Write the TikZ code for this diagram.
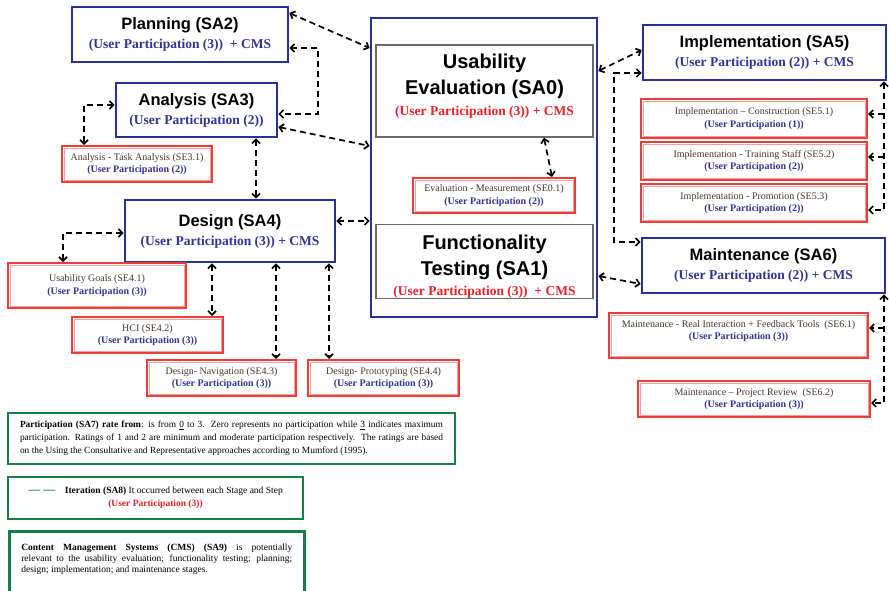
\documentclass[tikz,border=0pt]{standalone}
\usepackage{fontspec}
\setmainfont{Liberation Serif}
\newfontfamily\headfont{Liberation Sans}
\usetikzlibrary{arrows.meta}
\usetikzlibrary{calc}

\definecolor{sablue}{RGB}{38,50,150}
\definecolor{upblue}{RGB}{48,52,145}
\definecolor{sered}{RGB}{236,62,56}
\definecolor{upred}{RGB}{236,32,38}
\definecolor{sagreen}{RGB}{18,128,66}
\definecolor{coregray}{RGB}{105,105,105}
\definecolor{steptext}{RGB}{72,54,44}

\newcommand{\stagename}[1]{{\headfont\bfseries\fontsize{16.5}{19}\selectfont #1}}
\newcommand{\bigname}[1]{{\headfont\bfseries\fontsize{20}{26}\selectfont #1}}
\newcommand{\uparts}[1]{{\bfseries\color{upblue}#1}}
\newcommand{\upartr}[1]{{\bfseries\color{upred}#1}}

\tikzset{
  stage/.style={draw=sablue, line width=2.6pt, fill=white, align=center, inner sep=0pt,
    font=\fontsize{13.5}{19}\selectfont},
  mainbox/.style={draw=coregray, line width=1.4pt, fill=white, align=center, inner sep=0pt,
    font=\fontsize{13.5}{25}\selectfont},
  substep/.style={draw=sered, line width=2pt, fill=white,
    path picture={\draw[sered!50, line width=0.7pt]
      ([shift={(1.9pt,-1.9pt)}]path picture bounding box.north west) rectangle
      ([shift={(-1.9pt,1.9pt)}]path picture bounding box.south east);},
    align=center, inner sep=0pt, text=steptext, font=\fontsize{10}{12.5}\selectfont},
  legend/.style={draw=sagreen, line width=2.6pt, fill=white, inner sep=0pt},
  link/.style={line width=1.7pt, dash pattern=on 6pt off 4pt, <->},
  branch/.style={line width=1.7pt, dash pattern=on 6pt off 4pt, ->},
  >={Straight Barb[length=4pt,width=8pt]}
}

\begin{document}
\begin{tikzpicture}[x=1pt,y=-1pt]
  \useasboundingbox (0,0) rectangle (889,591);

  % centre block
  \node[draw=sablue, line width=2.6pt, minimum width=226pt, minimum height=299pt] (outer) at (484,167.5) {};
  \node[mainbox, minimum width=217pt, minimum height=92pt] (eval) at (484.5,91)
    {\bigname{Usability}\\[1pt] \bigname{Evaluation (SA0)}\\[-4pt] \upartr{(User Participation (3)) + CMS}\\[-13pt]\mbox{}};
  \node[substep, minimum width=162pt, minimum height=35pt] (meas) at (494,195.5)
    {Evaluation - Measurement (SE0.1)\\ \uparts{(User Participation (2))}};
  \node[mainbox, minimum width=217pt, minimum height=71pt] (func) at (484.5,261.5)
    {\mbox{}\\ \bigname{Functionality}\\[1pt] \bigname{Testing (SA1)}\\[-5pt] \upartr{(User Participation (3))\ \ + CMS}};

  % left stages
  \node[stage, minimum width=216pt, minimum height=55pt] (plan) at (180,34.5)
    {\stagename{Planning (SA2)}\\ \uparts{(User Participation (3))\ \ + CMS}};
  \node[stage, minimum width=161pt, minimum height=54pt] (anal) at (196.5,110)
    {\stagename{Analysis (SA3)}\\ \uparts{(User Participation (2))}};
  \node[substep, minimum width=150pt, minimum height=36pt] (task) at (137,164)
    {Analysis - Task Analysis (SE3.1)\\ \uparts{(User Participation (2))}};
  \node[stage, minimum width=210pt, minimum height=62pt] (desg) at (230,231)
    {\stagename{Design (SA4)}\\ \uparts{(User Participation (3)) + CMS}};
  \node[substep, minimum width=178pt, minimum height=45pt] (goal) at (97,285.5)
    {Usability Goals (SE4.1)\\ \uparts{(User Participation (3))}};
  \node[substep, minimum width=151pt, minimum height=36pt] (hci) at (147.5,335)
    {HCI (SE4.2)\\ \uparts{(User Participation (3))}};
  \node[substep, minimum width=149pt, minimum height=36pt] (navi) at (221.5,378)
    {Design- Navigation (SE4.3)\\ \uparts{(User Participation (3))}};
  \node[substep, minimum width=151pt, minimum height=36pt] (prot) at (383.5,378)
    {Design- Prototyping (SE4.4)\\ \uparts{(User Participation (3))}};

  % right stages
  \node[stage, minimum width=243pt, minimum height=55pt] (impl) at (764.5,52.5)
    {\stagename{Implementation (SA5)}\\ \uparts{(User Participation (2)) + CMS}};
  \node[substep, minimum width=226pt, minimum height=39pt] (cons) at (754,118.5)
    {Implementation -- Construction (SE5.1)\\ \uparts{(User Participation (1))}};
  \node[substep, minimum width=226pt, minimum height=38pt] (trai) at (754,161)
    {Implementation - Training Staff (SE5.2)\\ \uparts{(User Participation (2))}};
  \node[substep, minimum width=226pt, minimum height=38pt] (prom) at (754,203)
    {Implementation - Promotion (SE5.3)\\ \uparts{(User Participation (2))}};
  \node[stage, minimum width=243pt, minimum height=55pt] (main) at (763.5,265.5)
    {\stagename{Maintenance (SA6)}\\ \uparts{(User Participation (2)) + CMS}};
  \node[substep, minimum width=259pt, minimum height=45pt] (real) at (738.5,335.5)
    {Maintenance - Real Interaction + Feedback Tools\ \ (SE6.1)\\ \uparts{(User Participation (3))}\\[-2pt]\mbox{}};
  \node[substep, minimum width=232pt, minimum height=36pt] (revw) at (754,399)
    {Maintenance -- Project Review\ \ (SE6.2)\\ \uparts{(User Participation (3))}};

  % legend
  \node[legend, minimum width=447pt, minimum height=51pt] (rate) at (231.5,438.5)
    {\parbox{423pt}{\fontsize{9.4}{12.8}\selectfont
     \textbf{Participation (SA7) rate from}: is from \underline{0} to 3.\ \ Zero represents no participation while \underline{3} indicates maximum\linebreak
     participation. Ratings of 1 and 2 are minimum and moderate participation respectively.\ \ The ratings are based\linebreak
     on the Using the Consultative and Representative approaches according to Mumford (1995).}};
  \node[legend, minimum width=295pt, minimum height=42pt, align=center,
    font=\fontsize{9.5}{13}\selectfont] (iter) at (155.5,498)
    {\textcolor{sagreen}{\fontsize{12}{13}\selectfont\textbf{— —}}\quad\textbf{Iteration (SA8)} It occurred between each Stage and Step\\
     \upartr{(User Participation (3))}};
  \node[legend, minimum width=295pt, minimum height=70pt, anchor=north west] (cms) at (8,530)
    {\raisebox{26pt}{\parbox{271pt}{\fontsize{9.5}{11}\selectfont
     \textbf{Content Management Systems (CMS) (SA9)} is potentially\linebreak
     relevant to the usability evaluation; functionality testing; planning;\linebreak
     design; implementation; and maintenance stages.}}};

  % iterations, left side
  \draw[link] (plan.east |- 0,13) -- (outer.west |- 0,48);
  \draw[link] (plan.east |- 0,48) -- (318,48) |- (anal.east |- 0,114);
  \draw[link] (anal.east |- 0,127) -- (outer.west |- 0,146);
  \draw[link] (anal.west |- 0,105) -| (task.north -| 84,0);
  \draw[link] (anal.south -| 256,0) -- (desg.north -| 256,0);
  \draw[link] (desg.east |- 0,221) -- (outer.west |- 0,221);
  \draw[link] (desg.west |- 0,233) -| (goal.north -| 63,0);
  \foreach \sub/\x in {hci/212,navi/276,prot/329}
    \draw[link] (desg.south -| \x,0) -- (\sub.north -| \x,0);
  \draw[link] (eval.south -| 544,0) -- (meas.north -| 552,0);

  % iterations, right side
  \draw[link] (outer.east |- 0,71) -- (impl.west |- 0,50);
  \draw[link] (impl.west |- 0,73) -- (614,73) |- (main.west |- 0,242);
  \draw[link] (outer.east |- 0,276) -- (main.west |- 0,284);
  \draw[link] (impl.south -| 884,0) |- (prom.east |- 0,210);
  \draw[branch] (884,114) -- (cons.east |- 0,114);
  \draw[branch] (884,157) -- (trai.east |- 0,157);
  \draw[link] (main.south -| 884,0) |- (revw.east |- 0,403);
  \draw[branch] (884,328) -- (real.east |- 0,328);
\end{tikzpicture}
\end{document}
